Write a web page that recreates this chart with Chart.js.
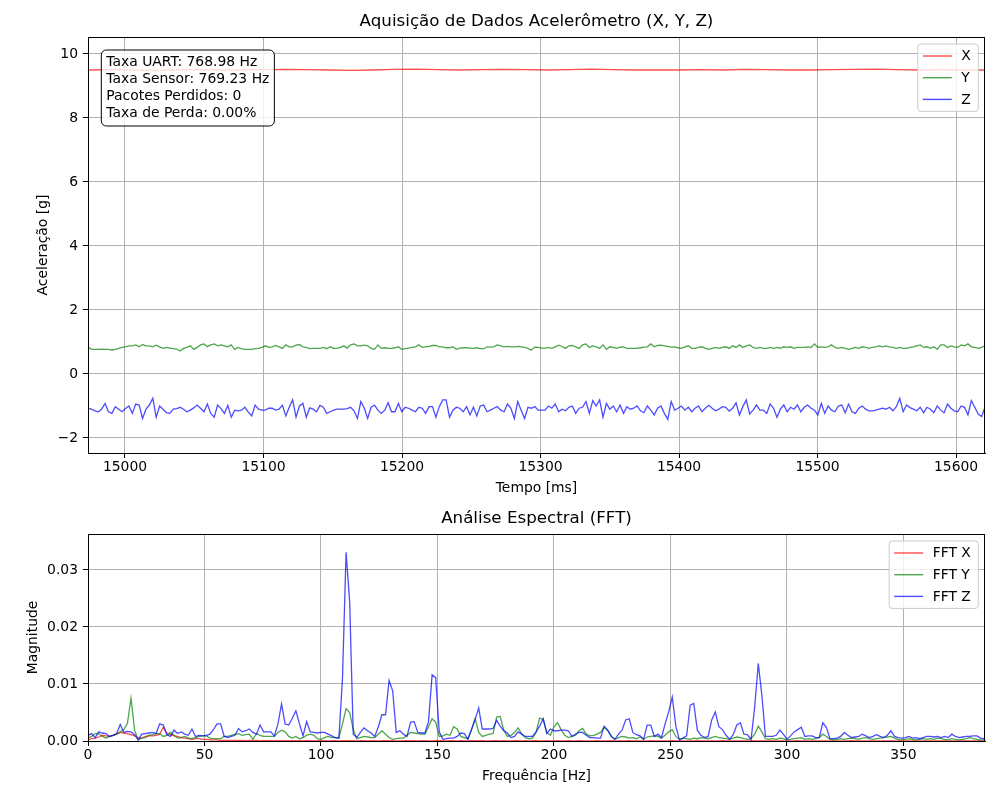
<!DOCTYPE html>
<html>
<head>
<meta charset="utf-8">
<title>Aquisição de Dados Acelerômetro</title>
<script src="https://cdn.jsdelivr.net/npm/chart.js@4.4.1/dist/chart.umd.min.js"></script>
<style>
    html, body { margin: 0; padding: 0; background: #fff; }
    .painel { position: absolute; left: 0; width: 1000px; }
</style>
</head>
<body>
<div class="painel" style="top:0;height:505px"><canvas id="graficoTempo" width="1000" height="505"></canvas></div>
<div class="painel" style="top:505px;height:295px"><canvas id="graficoFFT" width="1000" height="295"></canvas></div>
<script>
// Janela de tempo exibida [ms]
const tInicio = 14973.3;
const tFim = 15620.9;

// Parâmetros da aquisição (usados no texto e no eixo de frequência)
const taxaAmostragem = 769.23;
const nAmostras = 500;
const infoLinhas = [
    'Taxa UART: 768.98 Hz',
    'Taxa Sensor: 769.23 Hz',
    'Pacotes Perdidos: 0',
    'Taxa de Perda: 0.00%'
];

// Ticks dos eixos
const ticksTempo = [15000, 15100, 15200, 15300, 15400, 15500, 15600];
const ticksAcel = [-2, 0, 2, 4, 6, 8, 10];
const ticksFreq = [0, 50, 100, 150, 200, 250, 300, 350];
const ticksMag = [0, 0.01, 0.02, 0.03];

// Aceleração X [g] (variação lenta)
const accelX = [
    9.50, 9.51, 9.50, 9.49, 9.50, 9.51, 9.50, 9.50, 9.51, 9.52,
    9.51, 9.50, 9.49, 9.50, 9.52, 9.53, 9.51, 9.50, 9.51, 9.52,
    9.51, 9.50, 9.51, 9.53, 9.51, 9.50, 9.50, 9.50, 9.51, 9.50,
    9.52, 9.51, 9.50, 9.50, 9.51, 9.52, 9.53, 9.51, 9.50, 9.51,
    9.50, 9.50
];

// Aceleração Y [g]
const accelY = [
    0.85, 0.77, 0.77, 0.77, 0.78, 0.77, 0.77, 0.75, 0.77, 0.80,
    0.83, 0.85, 0.88, 0.88, 0.91, 0.85, 0.92, 0.88, 0.88, 0.85,
    0.90, 0.85, 0.80, 0.83, 0.81, 0.79, 0.78, 0.72, 0.80, 0.83,
    0.88, 0.77, 0.83, 0.91, 0.94, 0.85, 0.91, 0.94, 0.88, 0.91,
    0.88, 0.85, 0.91, 0.77, 0.83, 0.79, 0.77, 0.77, 0.77, 0.79,
    0.80, 0.83, 0.88, 0.83, 0.85, 0.89, 0.85, 0.80, 0.91, 0.85,
    0.85, 0.90, 0.92, 0.85, 0.83, 0.79, 0.80, 0.80, 0.80, 0.83,
    0.79, 0.85, 0.80, 0.80, 0.83, 0.88, 0.81, 0.91, 0.94, 0.88,
    0.88, 0.90, 0.88, 0.80, 0.77, 0.91, 0.80,
    0.82, 0.80, 0.80, 0.82, 0.85, 0.77, 0.79, 0.81, 0.83, 0.85,
    0.91, 0.83, 0.85, 0.86, 0.89, 0.89, 0.85, 0.85, 0.82, 0.82,
    0.85, 0.77, 0.81, 0.82, 0.82, 0.81, 0.80, 0.82, 0.79, 0.79,
    0.85, 0.84, 0.85, 0.91, 0.88, 0.85, 0.86, 0.85, 0.85, 0.86,
    0.85, 0.83, 0.80, 0.75, 0.84, 0.83, 0.81, 0.81, 0.83, 0.80,
    0.85, 0.90, 0.86, 0.80, 0.88, 0.89, 0.85, 0.80, 0.91, 0.94,
    0.83, 0.88, 0.85, 0.80, 0.91, 0.77, 0.85, 0.83, 0.80, 0.84,
    0.85, 0.80, 0.80, 0.80, 0.80, 0.82, 0.84, 0.85, 0.94, 0.85,
    0.89, 0.90, 0.88, 0.86, 0.84, 0.85, 0.82, 0.80, 0.85, 0.88,
    0.80, 0.80, 0.83, 0.85, 0.80, 0.77, 0.80, 0.83, 0.80, 0.83,
    0.85, 0.80, 0.88, 0.83, 0.91, 0.83, 0.88, 0.91, 0.83, 0.80,
    0.83, 0.80, 0.80, 0.83, 0.80, 0.83, 0.80, 0.85, 0.83, 0.85,
    0.80, 0.83, 0.83, 0.83, 0.85, 0.83, 0.94, 0.83, 0.85, 0.83,
    0.85, 0.91, 0.83, 0.80, 0.83, 0.80, 0.77, 0.80, 0.83, 0.80,
    0.85, 0.83, 0.80, 0.83, 0.85, 0.88, 0.85, 0.88, 0.85, 0.83,
    0.80, 0.83, 0.80, 0.80, 0.83, 0.85, 0.88, 0.91, 0.83, 0.85,
    0.80, 0.85, 0.77, 0.91, 0.91, 0.83, 0.88, 0.85, 0.83, 0.91,
    0.88, 0.94, 0.85, 0.83, 0.80, 0.83, 0.88
];

// Aceleração Z [g]
const accelZ = [
    -1.07, -1.10, -1.15, -1.18, -1.10, -0.92, -1.18, -1.23, -1.02, -1.10,
    -1.18, -1.08, -1.00, -1.23, -0.94, -0.97, -1.39, -1.10, -0.97, -0.76,
    -1.35, -1.00, -1.10, -1.21, -1.23, -1.10, -1.08, -1.04, -1.10, -1.18,
    -1.13, -1.06, -0.97, -1.07, -1.18, -0.94, -1.23, -1.35, -0.97, -1.08,
    -1.23, -0.98, -1.35, -1.13, -1.15, -1.13, -1.04, -1.19, -1.31, -0.97,
    -1.10, -1.13, -1.13, -1.07, -1.07, -1.13, -1.10, -0.98, -1.31, -1.04,
    -0.81, -1.35, -1.00, -0.92, -1.35, -1.06, -1.10, -1.18, -0.98, -1.04,
    -1.23, -1.18, -1.13, -1.10, -1.10, -1.10, -1.08, -1.04, -1.15, -1.39,
    -0.86, -1.07, -1.39, -1.04, -0.97, -1.13, -1.23,
    -1.13, -0.90, -1.18, -1.18, -0.92, -1.18, -1.04, -1.07, -1.13, -1.18,
    -1.04, -1.07, -1.23, -1.02, -1.02, -1.35, -1.02, -0.81, -0.81, -1.35,
    -1.13, -1.04, -1.07, -1.18, -1.02, -1.28, -1.04, -1.31, -1.00, -0.97,
    -1.18, -1.13, -1.07, -1.02, -1.13, -1.18, -0.94, -1.07, -1.39, -0.86,
    -1.13, -1.39, -1.04, -1.07, -1.02, -1.13, -1.13, -1.13, -1.00, -1.07,
    -0.94, -1.18, -1.10, -1.15, -1.04, -1.00, -1.23, -1.07, -1.04, -0.86,
    -1.23, -0.83, -1.00, -0.81, -1.35, -0.92, -1.10, -1.00, -1.18, -0.97,
    -1.23, -1.02, -1.10, -1.07, -1.00, -1.15, -1.21, -1.00, -1.13, -1.28,
    -1.07, -1.00, -1.23, -1.42, -0.86, -1.13, -1.07, -1.00, -1.13, -1.04,
    -1.18, -1.07, -1.00, -1.18, -1.07, -0.98, -1.07, -1.15, -1.10, -1.02,
    -1.04, -1.16, -1.07, -0.90, -1.28, -1.02, -0.81, -1.25, -1.13, -0.97,
    -1.13, -1.13, -1.23, -0.94, -1.07, -1.35, -1.10, -0.97, -1.18, -1.04,
    -1.10, -0.97, -1.18, -1.04, -0.97, -1.07, -1.13, -1.28, -0.92, -1.23,
    -1.00, -1.13, -1.18, -1.00, -0.97, -1.21, -0.94, -1.18, -1.23, -1.07,
    -1.00, -1.10, -1.15, -1.15, -1.13, -1.10, -1.07, -1.10, -1.04, -1.15,
    -1.02, -0.76, -1.18, -0.97, -1.05, -1.10, -1.15, -1.04, -1.21, -1.04,
    -1.10, -1.21, -1.00, -1.13, -1.21, -0.94, -1.07, -1.15, -1.18, -1.00,
    -1.04, -1.28, -0.83, -1.04, -1.25, -1.33, -1.04
];

// Magnitude da FFT por bin (0 .. fs/2)
const fftX = [
    0.0002, 0.0004, 0.0005, 0.0007, 0.0010, 0.0009, 0.0008, 0.0010, 0.0012, 0.0015,
    0.0014, 0.0013, 0.0011, 0.0009, 0.0006, 0.0005, 0.0008, 0.0009, 0.0009, 0.0010,
    0.0012, 0.0024, 0.0014, 0.0011, 0.0009, 0.0008, 0.0006, 0.0005, 0.0004, 0.0003,
    0.0004, 0.0004, 0.0003, 0.0003, 0.0002, 0.0002, 0.0002, 0.0001, 0.0001, 0.0001,
    0.00010, 0.00010, 0.00012, 0.00010, 0.00008, 0.00010, 0.00009, 0.00010, 0.00008, 0.00007,
    0.00008, 0.00006, 0.00007, 0.00006, 0.00005, 0.00006, 0.00005, 0.00005, 0.00004, 0.00005,
    0.00004, 0.00005, 0.00004, 0.00003, 0.00004, 0.00005, 0.00004, 0.00003, 0.00004, 0.00004,
    0.00003, 0.00005, 0.00006, 0.00005, 0.00004, 0.00003, 0.00004, 0.00004, 0.00003, 0.00004,
    0.00004, 0.00003, 0.00004, 0.00005, 0.00004, 0.00004, 0.00003, 0.00003, 0.00004, 0.00004,
    0.00005, 0.00004, 0.00003, 0.00004, 0.00004, 0.00003, 0.00003, 0.00004, 0.00005, 0.00004,
    0.00003, 0.00004, 0.00004, 0.00003, 0.00004, 0.00003, 0.00003, 0.00004, 0.00004, 0.00005,
    0.00004, 0.00003, 0.00003, 0.00004, 0.00004, 0.00003, 0.00004, 0.00003, 0.00003, 0.00004,
    0.00004, 0.00003, 0.00004, 0.00003, 0.00004, 0.00004, 0.00003, 0.00003, 0.00004, 0.00003,
    0.00003, 0.00004, 0.00003, 0.00003, 0.00004, 0.00003, 0.00003, 0.00004, 0.00003, 0.00003,
    0.00003, 0.00003, 0.00004, 0.00003, 0.00003, 0.00003, 0.00004, 0.00003, 0.00003, 0.00003,
    0.00003, 0.00004, 0.00003, 0.00003, 0.00003, 0.00003, 0.00003, 0.00004, 0.00003, 0.00003,
    0.00003, 0.00003, 0.00003, 0.00004, 0.00003, 0.00003, 0.00003, 0.00003, 0.00003, 0.00003,
    0.00004, 0.00003, 0.00003, 0.00003, 0.00003, 0.00003, 0.00003, 0.00004, 0.00003, 0.00003,
    0.00003, 0.00003, 0.00003, 0.00003, 0.00003, 0.00004, 0.00003, 0.00003, 0.00003, 0.00003,
    0.00003, 0.00003, 0.00003, 0.00003, 0.00003, 0.00003, 0.00003, 0.00003, 0.00004, 0.00003,
    0.00003, 0.00003, 0.00003, 0.00003, 0.00003, 0.00003, 0.00003, 0.00003, 0.00003, 0.00003,
    0.00003, 0.00003, 0.00003, 0.00004, 0.00003, 0.00003, 0.00003, 0.00003, 0.00003, 0.00003,
    0.00003, 0.00003, 0.00003, 0.00003, 0.00003, 0.00003, 0.00003, 0.00003, 0.00003, 0.00003,
    0.00003, 0.00003, 0.00003, 0.00003, 0.00003, 0.00003, 0.00003, 0.00003, 0.00003, 0.00003,
    0.00003, 0.00003, 0.00003, 0.00003, 0.00003, 0.00003, 0.00003, 0.00003, 0.00003, 0.00003,
    0.00003
];

const fftY = [
    0.0005, 0.0008, 0.0013, 0.0013, 0.0008, 0.0005, 0.0008, 0.0010, 0.0012, 0.0016,
    0.0020, 0.0031, 0.0075, 0.0019, 0.0002, 0.0005, 0.0006, 0.0010, 0.0011, 0.0013,
    0.0013, 0.0008, 0.0010, 0.0015, 0.0010, 0.0005, 0.0006, 0.0008, 0.0005, 0.0004,
    0.0006, 0.0008, 0.0009, 0.0009, 0.0005, 0.0004, 0.0004, 0.0004, 0.0008, 0.0008,
    0.0010, 0.0012, 0.0013, 0.0010, 0.0011, 0.0012, 0.0003, 0.0013, 0.0010, 0.0008,
    0.0008, 0.0008, 0.0008, 0.0015, 0.0019, 0.0016, 0.0008, 0.0005, 0.0008, 0.0004,
    0.0006, 0.0010, 0.0012, 0.0010, 0.0004, 0.0003, 0.0006, 0.0008, 0.0006, 0.0006,
    0.0006, 0.0030, 0.0057, 0.0050, 0.0020, 0.0004, 0.0006, 0.0008, 0.0007, 0.0006,
    0.0006, 0.0012, 0.0018, 0.0012, 0.0006, 0.0003, 0.0004, 0.0005, 0.0005, 0.0010,
    0.0015, 0.0014, 0.0013, 0.0012, 0.0012, 0.0025, 0.0039, 0.0033, 0.0008, 0.0009,
    0.0012, 0.0010, 0.0025, 0.0021, 0.0008, 0.0006, 0.0004, 0.0020, 0.0039, 0.0015,
    0.0008, 0.0010, 0.0012, 0.0013, 0.0042, 0.0043, 0.0019, 0.0008, 0.0010, 0.0015,
    0.0023, 0.0012, 0.0006, 0.0004, 0.0005, 0.0015, 0.0040, 0.0038, 0.0015, 0.0010,
    0.0025, 0.0032, 0.0020, 0.0010, 0.0006, 0.0008, 0.0010, 0.0018, 0.0022, 0.0012,
    0.0009, 0.0010, 0.0012, 0.0015, 0.0024, 0.0018, 0.0008, 0.0003, 0.0006, 0.0008,
    0.0007, 0.0005, 0.0006, 0.0004, 0.0007, 0.0003, 0.0007, 0.0008, 0.0009, 0.0008,
    0.0005, 0.0010, 0.0016, 0.0020, 0.0008, 0.0003, 0.0005, 0.0004, 0.0003, 0.0005,
    0.0004, 0.0006, 0.0005, 0.0004, 0.0006, 0.0008, 0.0006, 0.0005, 0.0004, 0.0003,
    0.0005, 0.0007, 0.0006, 0.0004, 0.0003, 0.0004, 0.0012, 0.0026, 0.0016, 0.0004,
    0.0003, 0.0004, 0.0003, 0.0005, 0.0004, 0.0002, 0.0003, 0.0004, 0.0005, 0.0006,
    0.0003, 0.0004, 0.0003, 0.0004, 0.0006, 0.0012, 0.0008, 0.0003, 0.0002, 0.0003,
    0.0004, 0.0003, 0.0004, 0.0005, 0.0004, 0.0003, 0.0005, 0.0006, 0.0004, 0.0003,
    0.0004, 0.0005, 0.0006, 0.0007, 0.0008, 0.0005, 0.0003, 0.0002, 0.0003, 0.0004,
    0.0003, 0.0002, 0.0003, 0.0004, 0.0003, 0.0004, 0.0003, 0.0005, 0.0004, 0.0003,
    0.0002, 0.0004, 0.0003, 0.0002, 0.0003, 0.0004, 0.0006, 0.0004, 0.0003, 0.0002,
    0.0002
];

const fftZ = [
    0.0010, 0.0013, 0.0006, 0.0016, 0.0014, 0.0013, 0.0008, 0.0010, 0.0013, 0.0029,
    0.0015, 0.0017, 0.0016, 0.0011, 0.0002, 0.0012, 0.0013, 0.0014, 0.0015, 0.0013,
    0.0030, 0.0028, 0.0011, 0.0008, 0.0019, 0.0013, 0.0016, 0.0012, 0.0010, 0.0021,
    0.0008, 0.0010, 0.0009, 0.0010, 0.0012, 0.0020, 0.0030, 0.0030, 0.0008, 0.0006,
    0.0008, 0.0010, 0.0022, 0.0016, 0.0018, 0.0021, 0.0015, 0.0012, 0.0028, 0.0016,
    0.0016, 0.0016, 0.0009, 0.0030, 0.0065, 0.0030, 0.0028, 0.0040, 0.0053, 0.0030,
    0.0009, 0.0034, 0.0016, 0.0015, 0.0014, 0.0015, 0.0015, 0.0012, 0.0009, 0.0006,
    0.0005, 0.0110, 0.0331, 0.0244, 0.0012, 0.0006, 0.0015, 0.0023, 0.0018, 0.0014,
    0.0008, 0.0025, 0.0046, 0.0046, 0.0106, 0.0088, 0.0015, 0.0018, 0.0012, 0.0008,
    0.0033, 0.0034, 0.0015, 0.0014, 0.0014, 0.0034, 0.0116, 0.0111, 0.0016, 0.0003,
    0.0004, 0.0005, 0.0005, 0.0008, 0.0014, 0.0013, 0.0003, 0.0020, 0.0038, 0.0058,
    0.0021, 0.0021, 0.0021, 0.0022, 0.0036, 0.0026, 0.0018, 0.0014, 0.0006, 0.0008,
    0.0016, 0.0012, 0.0008, 0.0008, 0.0008, 0.0016, 0.0026, 0.0039, 0.0013, 0.0021,
    0.0018, 0.0018, 0.0019, 0.0019, 0.0018, 0.0008, 0.0012, 0.0015, 0.0015, 0.0010,
    0.0006, 0.0006, 0.0005, 0.0005, 0.0026, 0.0019, 0.0008, 0.0003, 0.0012, 0.0019,
    0.0037, 0.0039, 0.0015, 0.0011, 0.0009, 0.0003, 0.0028, 0.0028, 0.0008, 0.0012,
    0.0006, 0.0030, 0.0051, 0.0077, 0.0026, 0.0002, 0.0005, 0.0009, 0.0063, 0.0066,
    0.0019, 0.0010, 0.0006, 0.0008, 0.0037, 0.0051, 0.0025, 0.0020, 0.0010, 0.0003,
    0.0011, 0.0028, 0.0032, 0.0012, 0.0011, 0.0003, 0.0060, 0.0136, 0.0080, 0.0008,
    0.0008, 0.0008, 0.0010, 0.0019, 0.0012, 0.0003, 0.0009, 0.0016, 0.0020, 0.0024,
    0.0008, 0.0009, 0.0009, 0.0006, 0.0006, 0.0032, 0.0024, 0.0004, 0.0004, 0.0005,
    0.0008, 0.0015, 0.0010, 0.0006, 0.0007, 0.0008, 0.0012, 0.0009, 0.0006, 0.0008,
    0.0011, 0.0008, 0.0006, 0.0010, 0.0018, 0.0008, 0.0006, 0.0005, 0.0006, 0.0008,
    0.0005, 0.0006, 0.0004, 0.0006, 0.0008, 0.0008, 0.0007, 0.0008, 0.0006, 0.0008,
    0.0006, 0.0012, 0.0008, 0.0006, 0.0007, 0.0008, 0.0008, 0.0009, 0.0009, 0.0005,
    0.0004
];

const corX = 'rgba(255, 0, 0, 0.7)';
const corY = 'rgba(0, 128, 0, 0.7)';
const corZ = 'rgba(0, 0, 255, 0.7)';

Chart.defaults.font.family = "'DejaVu Sans', sans-serif";
Chart.defaults.font.size = 13.9;
Chart.defaults.color = '#000';

// Amostras igualmente espaçadas dentro da janela
function eixoTempo(serie) {
    const passo = (tFim - tInicio) / (serie.length - 1);
    return serie.map((_, i) => tInicio + i * passo);
}

function pontos(xs, ys) {
    return ys.map((v, i) => ({ x: xs[i], y: v }));
}

function caixaArredondada(ctx, x, y, w, h, r) {
    ctx.beginPath();
    ctx.moveTo(x + r, y);
    ctx.arcTo(x + w, y, x + w, y + h, r);
    ctx.arcTo(x + w, y + h, x, y + h, r);
    ctx.arcTo(x, y + h, x, y, r);
    ctx.arcTo(x, y, x + w, y, r);
    ctx.closePath();
}

// Moldura, legenda e caixa de texto no estilo matplotlib
function decoracao(comInfo) {
    return {
        id: 'decoracao',
        afterDraw(chart) {
            const ctx = chart.ctx;
            const a = chart.chartArea;
            ctx.save();
            ctx.strokeStyle = '#000';
            ctx.lineWidth = 1;
            ctx.strokeRect(Math.round(a.left) + 0.5, Math.round(a.top) + 0.5,
                Math.round(a.right - a.left) - 1, Math.round(a.bottom - a.top));

            ctx.font = '13.9px "DejaVu Sans"';
            ctx.textBaseline = 'middle';
            ctx.textAlign = 'left';

            if (comInfo) {
                const larg = Math.max(...infoLinhas.map(t => ctx.measureText(t).width));
                const x0 = a.left + 13.3, y0 = a.top + 13;
                caixaArredondada(ctx, x0, y0, larg + 10, 76, 5);
                ctx.fillStyle = 'rgba(255, 255, 255, 0.8)';
                ctx.fill();
                ctx.strokeStyle = '#000';
                ctx.stroke();
                ctx.fillStyle = '#000';
                infoLinhas.forEach((t, k) => ctx.fillText(t, x0 + 5, y0 + 12.8 + k * 16.7));
            }

            const itens = chart.data.datasets;
            const largTexto = Math.max(...itens.map(d => ctx.measureText(d.label).width));
            const w = 43.5 + largTexto + 7.5;
            const h = 24 + (itens.length - 1) * 21.7;
            const lx = a.right - 6.7 - w, ly = a.top + 7;
            caixaArredondada(ctx, lx, ly, w, h, 3);
            ctx.fillStyle = 'rgba(255, 255, 255, 0.8)';
            ctx.fill();
            ctx.strokeStyle = '#cccccc';
            ctx.lineWidth = 1;
            ctx.stroke();
            itens.forEach((d, k) => {
                const yy = ly + 12 + k * 21.7;
                ctx.beginPath();
                ctx.moveTo(lx + 5, yy);
                ctx.lineTo(lx + 34, yy);
                ctx.strokeStyle = d.borderColor;
                ctx.lineWidth = 1.4;
                ctx.stroke();
                ctx.fillStyle = '#000';
                ctx.fillText(d.label, lx + 43.5, yy + 0.8);
            });
            ctx.restore();
        }
    };
}

function serie(label, dados, cor, ordem) {
    return {
        label: label,
        data: dados,
        borderColor: cor,
        backgroundColor: cor,
        borderWidth: 1.3,
        pointRadius: 0,
        tension: 0,
        fill: false,
        order: ordem
    };
}

function grade() {
    return { color: '#b0b0b0', lineWidth: 1, tickColor: '#000', tickLength: 5, drawTicks: true };
}

function opcoes(cfg) {
    return {
        responsive: false,
        animation: false,
        events: [],
        layout: { padding: { left: 0, right: 15, top: 0, bottom: 0 } },
        plugins: {
            legend: { display: false },
            tooltip: { enabled: false },
            title: {
                display: true,
                fullSize: false,
                text: cfg.titulo,
                color: '#000',
                font: { size: 16.7, weight: 'normal', lineHeight: '20px' },
                padding: cfg.tituloPad
            }
        },
        scales: {
            x: {
                type: 'linear',
                min: cfg.xMin,
                max: cfg.xMax,
                afterBuildTicks: s => { s.ticks = cfg.xTicks.map(v => ({ value: v })); },
                afterFit: s => { s.height = cfg.alturaX; },
                grid: grade(),
                border: { display: true, color: '#000', width: 1 },
                ticks: { color: '#000', padding: 1.5, maxRotation: 0, autoSkip: false, callback: v => String(v) },
                title: { display: true, text: cfg.xTitulo, color: '#000', padding: { top: 0, bottom: cfg.xTituloPad } }
            },
            y: {
                type: 'linear',
                min: cfg.yMin,
                max: cfg.yMax,
                afterBuildTicks: s => { s.ticks = cfg.yTicks.map(v => ({ value: v })); },
                afterFit: s => { s.width = 88; },
                grid: grade(),
                border: { display: true, color: '#000', width: 1 },
                ticks: { color: '#000', padding: 5, autoSkip: false, callback: cfg.yFormato },
                title: { display: true, text: cfg.yTitulo, color: '#000', padding: { top: cfg.yTituloPad, bottom: 0 } }
            }
        }
    };
}

// Gráfico no domínio do tempo
new Chart(document.getElementById('graficoTempo'), {
    type: 'line',
    data: {
        datasets: [
            serie('X', pontos(eixoTempo(accelX), accelX), corX, 3),
            serie('Y', pontos(eixoTempo(accelY), accelY), corY, 2),
            serie('Z', pontos(eixoTempo(accelZ), accelZ), corZ, 1)
        ]
    },
    options: opcoes({
        titulo: 'Aquisição de Dados Acelerômetro (X, Y, Z)',
        tituloPad: { top: 12, bottom: 5 },
        xMin: tInicio, xMax: tFim, xTicks: ticksTempo, alturaX: 52,
        xTitulo: 'Tempo [ms]', xTituloPad: 8.7,
        yMin: -2.469, yMax: 10.531, yTicks: ticksAcel,
        yTitulo: 'Aceleração [g]', yTituloPad: 34.7,
        yFormato: v => (v < 0 ? '\u2212' + Math.abs(v) : String(v))
    }),
    plugins: [decoracao(true)]
});

// Espectro
const freqs = fftZ.map((_, i) => i * taxaAmostragem / nAmostras);

new Chart(document.getElementById('graficoFFT'), {
    type: 'line',
    data: {
        datasets: [
            serie('FFT X', pontos(freqs, fftX), corX, 3),
            serie('FFT Y', pontos(freqs, fftY), corY, 2),
            serie('FFT Z', pontos(freqs, fftZ), corZ, 1)
        ]
    },
    options: opcoes({
        titulo: 'Análise Espectral (FFT)',
        tituloPad: { top: 4, bottom: 5 },
        xMin: 0, xMax: 385, xTicks: ticksFreq, alturaX: 59,
        xTitulo: 'Frequência [Hz]', xTituloPad: 15.7,
        yMin: 0, yMax: 0.0363, yTicks: ticksMag,
        yTitulo: 'Magnitude', yTituloPad: 24.7,
        yFormato: v => v.toFixed(2)
    }),
    plugins: [decoracao(false)]
});
</script>
</body>
</html>
